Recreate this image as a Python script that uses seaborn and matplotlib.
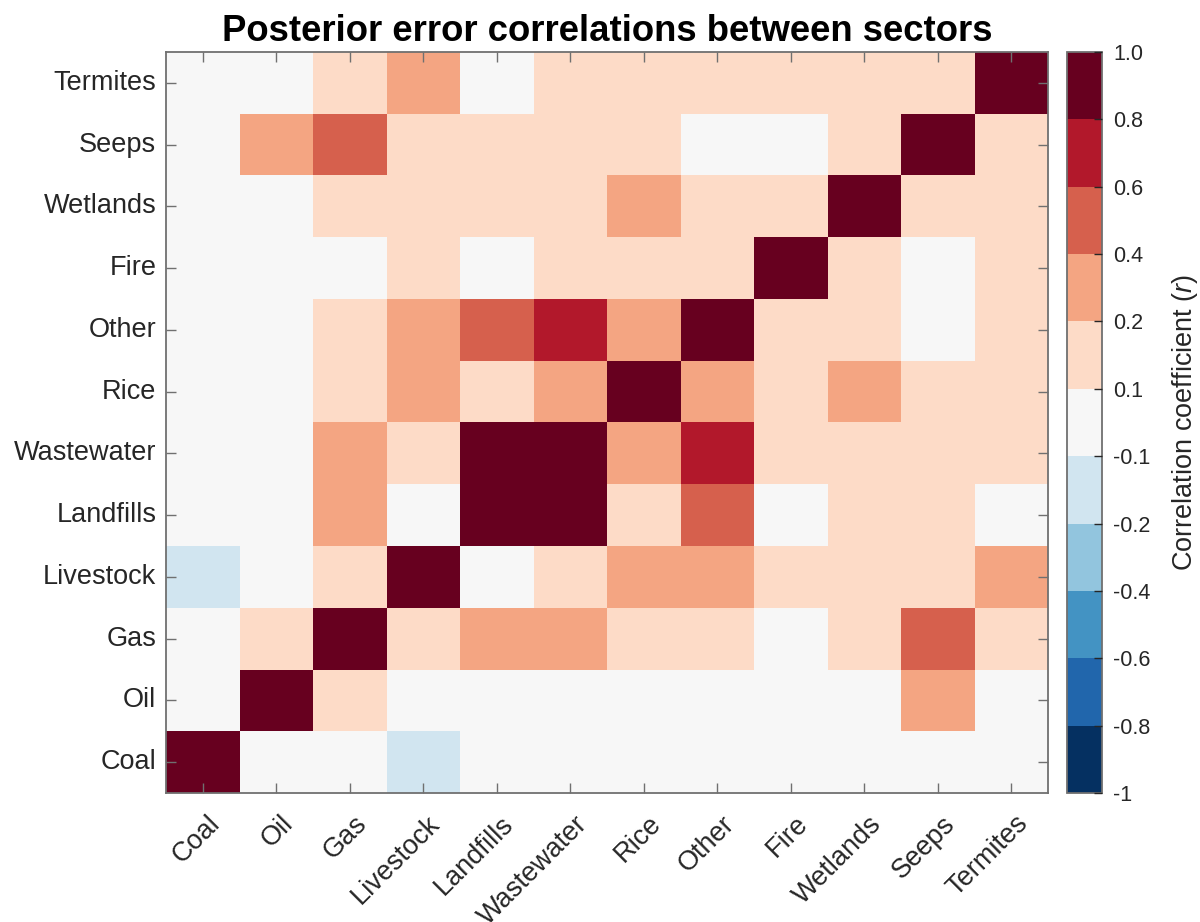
import numpy as np
import pandas as pd
import matplotlib
matplotlib.use("Agg")
import matplotlib.pyplot as plt
from matplotlib.colors import ListedColormap, BoundaryNorm
from matplotlib.transforms import ScaledTranslation
import seaborn as sns

# ---------------- data ----------------
sectors = ["Coal", "Oil", "Gas", "Livestock", "Landfills", "Wastewater",
           "Rice", "Other", "Fire", "Wetlands", "Seeps", "Termites"]

# correlation of each sector (row) with sectors in the order above (columns)
coal       = [1.00, 0.00, 0.00, -0.15, 0.00, 0.00, 0.00, 0.00, 0.00, 0.00, 0.00, 0.00]
oil        = [0.00, 1.00, 0.15, 0.00, 0.00, 0.00, 0.00, 0.00, 0.00, 0.00, 0.30, 0.00]
gas        = [0.00, 0.15, 1.00, 0.15, 0.30, 0.30, 0.15, 0.15, 0.00, 0.15, 0.50, 0.15]
livestock  = [-0.15, 0.00, 0.15, 1.00, 0.00, 0.15, 0.30, 0.30, 0.15, 0.15, 0.15, 0.30]
landfills  = [0.00, 0.00, 0.30, 0.00, 1.00, 0.90, 0.15, 0.50, 0.00, 0.15, 0.15, 0.00]
wastewater = [0.00, 0.00, 0.30, 0.15, 0.90, 1.00, 0.30, 0.70, 0.15, 0.15, 0.15, 0.15]
rice       = [0.00, 0.00, 0.15, 0.30, 0.15, 0.30, 1.00, 0.30, 0.15, 0.30, 0.15, 0.15]
other      = [0.00, 0.00, 0.15, 0.30, 0.50, 0.70, 0.30, 1.00, 0.15, 0.15, 0.00, 0.15]
fire       = [0.00, 0.00, 0.00, 0.15, 0.00, 0.15, 0.15, 0.15, 1.00, 0.15, 0.00, 0.15]
wetlands   = [0.00, 0.00, 0.15, 0.15, 0.15, 0.15, 0.30, 0.15, 0.15, 1.00, 0.15, 0.15]
seeps      = [0.00, 0.30, 0.50, 0.15, 0.15, 0.15, 0.15, 0.00, 0.00, 0.15, 1.00, 0.15]
termites   = [0.00, 0.00, 0.15, 0.30, 0.00, 0.15, 0.15, 0.15, 0.15, 0.15, 0.15, 1.00]

cbar_bounds = [-1, -0.8, -0.6, -0.4, -0.2, -0.1, 0.1, 0.2, 0.4, 0.6, 0.8, 1.0]
cbar_labels = ["-1", "-0.8", "-0.6", "-0.4", "-0.2", "-0.1", "0.1", "0.2",
               "0.4", "0.6", "0.8", "1.0"]
bin_colors = ["#053061", "#2166ac", "#4393c3", "#92c5de", "#d1e5f0", "#f7f7f7",
              "#fddbc7", "#f4a582", "#d6604d", "#b2182b", "#67001f"]

title = "Posterior error correlations between sectors"

# ---------------- style ----------------
sns.set_style("white")
plt.rcParams["font.family"] = ["Liberation Sans", "DejaVu Sans"]
plt.rcParams["mathtext.fontset"] = "custom"
plt.rcParams["mathtext.it"] = "Liberation Sans:italic"
plt.rcParams["mathtext.rm"] = "Liberation Sans"

text_color = "#262626"
axis_color = "#707070"
fs = 19.5

rows = [coal, oil, gas, livestock, landfills, wastewater, rice, other,
        fire, wetlands, seeps, termites]
df = pd.DataFrame(rows, index=sectors, columns=sectors)
df_plot = df.iloc[::-1]  # Termites at top, Coal at bottom

cmap = ListedColormap(bin_colors)
norm = BoundaryNorm(cbar_bounds, cmap.N)

fig = plt.figure(figsize=(12, 9.22), dpi=100)
ax = fig.add_axes([166 / 1200, 1 - 793 / 922, (1048 - 166) / 1200, (793 - 52) / 922])
cax = fig.add_axes([1067 / 1200, 1 - 793 / 922, 35 / 1200, (793 - 52) / 922])

sns.heatmap(df_plot, ax=ax, cbar_ax=cax, cmap=cmap, norm=norm,
            linewidths=0, square=False, xticklabels=True, yticklabels=True)

ax.set_axisbelow(False)
cax.set_axisbelow(False)

# axes styling (MATLAB-like box with inward ticks on all sides)
for side in ["left", "right", "top", "bottom"]:
    ax.spines[side].set_visible(True)
    ax.spines[side].set_color(axis_color)
    ax.spines[side].set_linewidth(1.3)
    ax.spines[side].set_zorder(3)

ax.tick_params(axis="both", which="major", direction="in", length=7, width=1,
               color=axis_color, labelcolor=text_color, labelsize=fs,
               top=True, right=True, bottom=True, left=True,
               labeltop=False, labelright=False)
ax.tick_params(axis="y", pad=7)
ax.tick_params(axis="x", pad=10)

ax.set_yticklabels(df_plot.index, rotation=0)
ax.set_xticklabels(df_plot.columns, rotation=45, ha="right", va="center",
                   rotation_mode="anchor")
offset = ScaledTranslation(13 / 100, -13 / 100, fig.dpi_scale_trans)
for lbl in ax.get_xticklabels():
    lbl.set_transform(lbl.get_transform() + offset)
ax.set_xlabel("")
ax.set_ylabel("")

ax.set_title(title, fontsize=26.3, fontweight="bold", color="black", pad=8)

# colorbar
cbar = ax.collections[0].colorbar
cbar.set_ticks(cbar_bounds)
cbar.set_ticklabels(cbar_labels)
cbar.outline.set_visible(True)
cbar.outline.set_edgecolor(axis_color)
cbar.outline.set_linewidth(1.3)
cax.tick_params(direction="in", length=6, width=1, color="#262626",
                labelcolor=text_color, labelsize=15.5, pad=8, right=True, left=False)
cbar.set_label(r"Correlation coefficient ($\mathit{r}$)", fontsize=fs,
               color=text_color, labelpad=14)

fig.savefig("out.png", dpi=100, facecolor="white")
